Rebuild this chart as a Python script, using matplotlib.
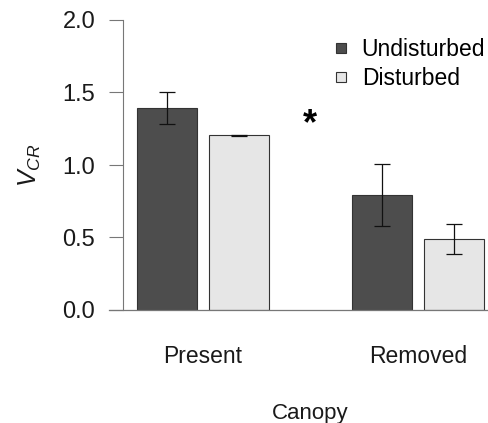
import matplotlib
matplotlib.use("Agg")
import matplotlib.pyplot as plt
from matplotlib.lines import Line2D
import numpy as np

plt.rcParams['font.family'] = ['Liberation Sans', 'DejaVu Sans']
plt.rcParams['mathtext.fontset'] = 'custom'
plt.rcParams['mathtext.it'] = 'Liberation Sans:italic'
plt.rcParams['mathtext.rm'] = 'Liberation Sans'

categories = ["Present", "Removed"]
series = ["Undisturbed", "Disturbed"]
undisturbed = [1.39, 0.795]
undisturbed_err = [0.11, 0.215]
disturbed = [1.205, 0.49]
disturbed_err = [0.004, 0.105]
yticks = [0.0, 0.5, 1.0, 1.5, 2.0]

colors = ["#4d4d4d", "#e6e6e6"]
edge = "#333333"
axis_grey = "#777777"

fig = plt.figure(figsize=(4.88, 4.23), dpi=100)
W, H = 488, 423
ax = fig.add_axes([123 / W, 1 - 310 / H, 365 / W, 290 / H])

group_centers = np.array([1.325, 4.917])
off = 0.6
bw = 1.0
for vals, errs, col, sgn, lab in [(undisturbed, undisturbed_err, colors[0], -1, series[0]),
                                  (disturbed, disturbed_err, colors[1], 1, series[1])]:
    xs = group_centers + sgn * off
    ax.bar(xs, vals, width=bw, color=col, edgecolor=edge, linewidth=0.8, zorder=2)
    ax.errorbar(xs, vals, yerr=errs, fmt='none', ecolor='#111111', elinewidth=0.9,
                capsize=6, capthick=0.9, zorder=3)

ax.set_xlim(0, 365 / 60)
ax.set_ylim(0, 2.0)
ax.set_yticks(yticks)
ax.set_yticklabels([f"{v:.1f}" for v in yticks])
ax.tick_params(axis='y', length=10, width=0.8, color=axis_grey, pad=10,
               labelsize=17, labelcolor='#1a1a1a')
ax.set_xticks(group_centers)
ax.set_xticklabels(categories)
ax.tick_params(axis='x', length=0, pad=25, labelsize=16.5, labelcolor='#1a1a1a')

for s in ['top', 'right', 'bottom']:
    ax.spines[s].set_visible(False)
ax.spines['left'].set_color(axis_grey)
ax.spines['left'].set_linewidth(0.8)
ax.add_line(Line2D([-14 / 365, 1], [0, 0], transform=ax.transAxes, color=axis_grey,
                   linewidth=0.9, clip_on=False, zorder=4))

ax.set_ylabel(r'$V_{CR}$', fontsize=18, labelpad=14, color='#1a1a1a')
fig.text(310 / W, 1 - 419 / H, 'Canopy', fontsize=16, color='#1a1a1a',
         ha='center', va='baseline')

ax.text(3.117, 1.28, '*', fontsize=26, fontweight='bold', ha='center', va='center')

handles = [Line2D([], [], marker='s', linestyle='none', markersize=7,
                  markerfacecolor=c, markeredgecolor=edge, markeredgewidth=0.8)
           for c in colors]
leg = ax.legend(handles, series, loc='upper left', bbox_to_anchor=((333 - 123) / 365, 1 - (38 - 20) / 290),
                frameon=False, fontsize=16.5, handlelength=0.7, handletextpad=0.55,
                labelspacing=0.28, borderpad=0, borderaxespad=0)

fig.savefig("out.png", dpi=100)
